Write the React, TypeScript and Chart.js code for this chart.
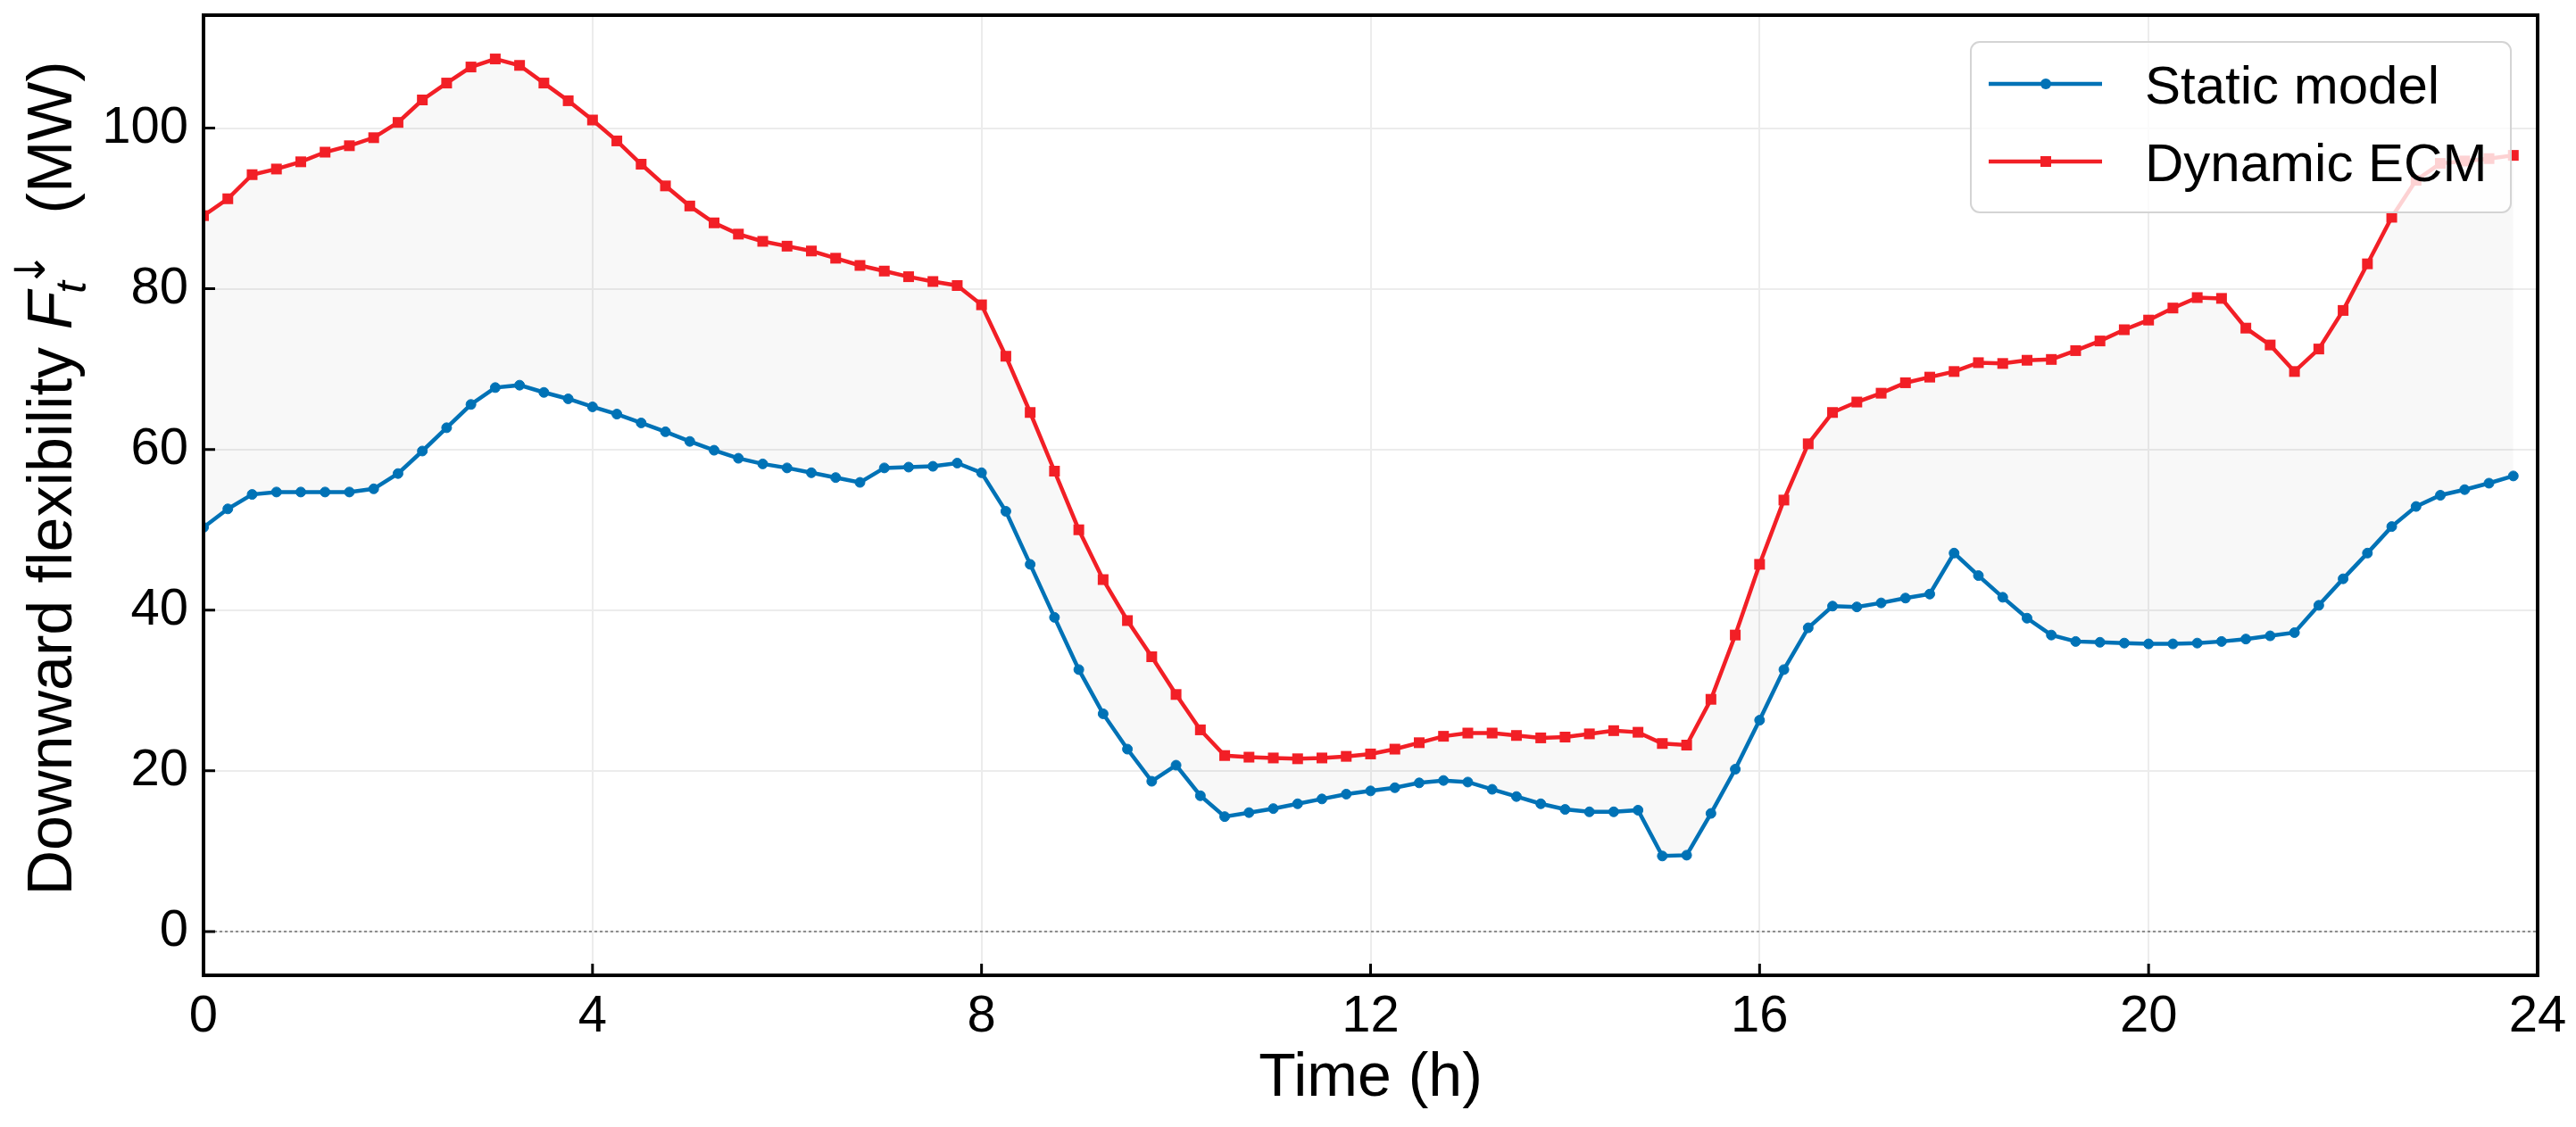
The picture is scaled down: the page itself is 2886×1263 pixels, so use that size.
import { useEffect, useRef } from "react";
import { Chart, registerables } from "chart.js";

Chart.register(...registerables);

// time of day (h), 15-minute steps
const hours = [
  0, 0.25, 0.5, 0.75, 1, 1.25, 1.5, 1.75, 2, 2.25, 2.5, 2.75,
  3, 3.25, 3.5, 3.75, 4, 4.25, 4.5, 4.75, 5, 5.25, 5.5, 5.75,
  6, 6.25, 6.5, 6.75, 7, 7.25, 7.5, 7.75, 8, 8.25, 8.5, 8.75,
  9, 9.25, 9.5, 9.75, 10, 10.25, 10.5, 10.75, 11, 11.25, 11.5, 11.75,
  12, 12.25, 12.5, 12.75, 13, 13.25, 13.5, 13.75, 14, 14.25, 14.5, 14.75,
  15, 15.25, 15.5, 15.75, 16, 16.25, 16.5, 16.75, 17, 17.25, 17.5, 17.75,
  18, 18.25, 18.5, 18.75, 19, 19.25, 19.5, 19.75, 20, 20.25, 20.5, 20.75,
  21, 21.25, 21.5, 21.75, 22, 22.25, 22.5, 22.75, 23, 23.25, 23.5, 23.75,
];

const staticModel = [
  50.3, 52.6, 54.4, 54.7, 54.7, 54.7, 54.7, 55.1,
  57.0, 59.8, 62.7, 65.6, 67.7, 68.0, 67.1, 66.3,
  65.3, 64.4, 63.3, 62.2, 61.0, 59.9, 58.9, 58.2,
  57.7, 57.1, 56.5, 55.9, 57.7, 57.8, 57.9, 58.3,
  57.1, 52.3, 45.7, 39.1, 32.6, 27.1, 22.7, 18.7,
  20.7, 16.9, 14.3, 14.8, 15.3, 15.9, 16.5, 17.1,
  17.5, 17.9, 18.5, 18.8, 18.6, 17.7, 16.8, 15.9,
  15.2, 14.9, 14.9, 15.1, 9.4, 9.5, 14.7, 20.2,
  26.3, 32.6, 37.8, 40.5, 40.4, 40.9, 41.5, 42.0,
  47.1, 44.3, 41.6, 39.0, 36.9, 36.1, 36.0, 35.9,
  35.8, 35.8, 35.9, 36.1, 36.4, 36.8, 37.2, 40.6,
  43.9, 47.1, 50.4, 52.9, 54.3, 55.0, 55.8, 56.7,
];

const dynamicEcm = [
  89.1, 91.2, 94.2, 94.9, 95.8, 97.0, 97.8, 98.8,
  100.7, 103.5, 105.6, 107.6, 108.6, 107.8, 105.6, 103.4,
  101.0, 98.4, 95.5, 92.8, 90.3, 88.2, 86.8, 85.9,
  85.3, 84.7, 83.8, 82.9, 82.2, 81.5, 80.9, 80.4,
  78.0, 71.6, 64.6, 57.3, 50.0, 43.8, 38.7, 34.2,
  29.5, 25.1, 21.9, 21.7, 21.6, 21.5, 21.6, 21.8,
  22.1, 22.7, 23.5, 24.3, 24.7, 24.7, 24.4, 24.1,
  24.2, 24.6, 25.0, 24.8, 23.4, 23.2, 28.9, 36.9,
  45.7, 53.7, 60.7, 64.6, 65.9, 67.0, 68.3, 69.0,
  69.7, 70.8, 70.7, 71.1, 71.2, 72.3, 73.5, 74.9,
  76.1, 77.6, 78.9, 78.8, 75.1, 73.0, 69.7, 72.5,
  77.3, 83.1, 88.9, 93.5, 95.6, 95.9, 96.2, 96.6,
];

const xTicks = [0, 4, 8, 12, 16, 20, 24];
const yTicks = [0, 20, 40, 60, 80, 100];
const seriesLabels = ["Static model", "Dynamic ECM"];
const xTitle = "Time (h)";
const yTitleMain = "Downward flexibility ";
const yTitleUnit = "(MW)";

const BLUE = "#0072B6";
const RED = "#F21F26";
const FONT = '"Liberation Sans", Arial, sans-serif';

// frame, inward ticks, zero line, axis titles and the legend box
const decorations = {
  id: "decorations",
  beforeDatasetsDraw(chart: Chart) {
    const { ctx, chartArea: a, scales } = chart;
    const y0 = scales.y.getPixelForValue(0);
    ctx.save();
    ctx.strokeStyle = "#8a8a8a";
    ctx.lineWidth = 2;
    ctx.setLineDash([3, 3]);
    ctx.beginPath();
    ctx.moveTo(a.left, y0);
    ctx.lineTo(a.right, y0);
    ctx.stroke();
    ctx.restore();
  },
  afterDatasetsDraw(chart: Chart) {
    const { ctx, chartArea: a, scales } = chart;
    ctx.save();
    ctx.strokeStyle = "#000";
    ctx.lineWidth = 3;
    ctx.beginPath();
    for (const v of xTicks) {
      const px = scales.x.getPixelForValue(v);
      ctx.moveTo(px, a.bottom);
      ctx.lineTo(px, a.bottom - 13);
    }
    for (const v of yTicks) {
      const py = scales.y.getPixelForValue(v);
      ctx.moveTo(a.left, py);
      ctx.lineTo(a.left + 13, py);
    }
    ctx.stroke();
    ctx.lineWidth = 4;
    ctx.strokeRect(a.left, a.top, a.right - a.left, a.bottom - a.top);

    // x title
    ctx.fillStyle = "#000";
    ctx.font = `68px ${FONT}`;
    ctx.textAlign = "center";
    ctx.textBaseline = "alphabetic";
    ctx.fillText(xTitle, (a.left + a.right) / 2, 1228);

    // y title, rotated, with F_t^arrow
    ctx.translate(80, 536);
    ctx.rotate(-Math.PI / 2);
    ctx.textAlign = "left";
    const main = `70px ${FONT}`;
    const ital = `italic 70px ${FONT}`;
    const sub = `italic 49px ${FONT}`;
    const arr = `47px "DejaVu Sans", sans-serif`;
    ctx.font = main;
    const w1 = ctx.measureText(yTitleMain).width;
    const w4 = ctx.measureText(yTitleUnit).width;
    ctx.font = ital;
    const wF = ctx.measureText("F").width;
    ctx.font = sub;
    const wt = ctx.measureText("t").width;
    ctx.font = arr;
    const wa = ctx.measureText("\u2193").width;
    const gap = 50;
    const total = w1 + wF + 2 + wt + wa * 0.55 + gap + w4;
    let x = -total / 2;
    ctx.font = main;
    ctx.fillText(yTitleMain, x, 0);
    x += w1;
    ctx.font = ital;
    ctx.fillText("F", x, 0);
    x += wF + 2;
    ctx.font = sub;
    ctx.fillText("t", x - 4, 16);
    ctx.font = arr;
    ctx.fillText("\u2193", x + wt * 0.2, -30);
    x += wt + wa * 0.55 + gap;
    ctx.font = main;
    ctx.fillText(yTitleUnit, x, 0);
    ctx.restore();
  },
  afterDraw(chart: Chart) {
    const { ctx } = chart;
    const bx = 2208, by = 47, bw = 605, bh = 191, r = 10;
    ctx.save();
    ctx.fillStyle = "rgba(255,255,255,0.8)";
    ctx.strokeStyle = "#d4d4d4";
    ctx.lineWidth = 2;
    ctx.beginPath();
    ctx.roundRect(bx, by, bw, bh, r);
    ctx.fill();
    ctx.stroke();
    const rows = [94, 181];
    chart.data.datasets.forEach((ds: any, i: number) => {
      const cy = rows[i];
      ctx.strokeStyle = ds.borderColor;
      ctx.fillStyle = ds.borderColor;
      ctx.lineWidth = 4.5;
      ctx.beginPath();
      ctx.moveTo(2228, cy);
      ctx.lineTo(2355, cy);
      ctx.stroke();
      ctx.beginPath();
      if (ds.pointStyle === "rect") {
        ctx.rect(2292 - 6, cy - 6, 12, 12);
      } else {
        ctx.arc(2292, cy, 6, 0, Math.PI * 2);
      }
      ctx.fill();
      ctx.fillStyle = "#000";
      ctx.font = `60px ${FONT}`;
      ctx.textAlign = "left";
      ctx.textBaseline = "alphabetic";
      ctx.fillText(ds.label, 2403, cy + 22);
    });
    ctx.restore();
  },
};

function createChart(canvas: HTMLCanvasElement): Chart {
  const ctx = canvas.getContext("2d") as CanvasRenderingContext2D;
  return new Chart(ctx, {
    type: "line",
    data: {
      labels: hours,
      datasets: [
        {
          label: seriesLabels[0],
          data: hours.map((h, i) => ({ x: h, y: staticModel[i] })),
          borderColor: BLUE,
          backgroundColor: BLUE,
          pointBackgroundColor: BLUE,
          pointBorderColor: BLUE,
          pointStyle: "circle",
          pointRadius: 5.5,
          pointBorderWidth: 1,
          borderWidth: 4.5,
          fill: false,
        },
        {
          label: seriesLabels[1],
          data: hours.map((h, i) => ({ x: h, y: dynamicEcm[i] })),
          borderColor: RED,
          backgroundColor: "rgba(0,0,0,0.028)",
          pointBackgroundColor: RED,
          pointBorderColor: RED,
          pointStyle: "rect",
          pointRadius: 8.5,
          pointBorderWidth: 0,
          borderWidth: 4.5,
          fill: "-1",
        },
      ],
    },
    options: {
      animation: false,
      responsive: true,
      maintainAspectRatio: false,
      devicePixelRatio: 1,
      layout: { padding: { top: 17, right: 43, left: 0, bottom: 0 } },
      plugins: {
        legend: { display: false },
        tooltip: { enabled: false },
      },
      scales: {
        x: {
          type: "linear",
          min: 0,
          max: 24,
          afterBuildTicks: (scale: any) => {
            scale.ticks = xTicks.map((v) => ({ value: v }));
          },
          afterFit: (scale: any) => {
            scale.height = 170;
            scale.paddingLeft = 0;
            scale.paddingRight = 0;
          },
          grid: { color: "#ececec", lineWidth: 2, drawTicks: false },
          border: { display: false },
          ticks: {
            padding: 12,
            color: "#000",
            font: { family: FONT, size: 58 },
            maxRotation: 0,
            callback: (v: any) => String(v),
          },
        },
        y: {
          type: "linear",
          min: -5.45,
          max: 114.05,
          afterBuildTicks: (scale: any) => {
            scale.ticks = yTicks.map((v) => ({ value: v }));
          },
          afterFit: (scale: any) => {
            scale.width = 228;
            scale.paddingTop = 0;
            scale.paddingBottom = 0;
          },
          grid: { color: "#ececec", lineWidth: 2, drawTicks: false },
          border: { display: false },
          ticks: {
            padding: 17,
            color: "#000",
            font: { family: FONT, size: 58 },
            callback: (v: any) => String(v),
          },
        },
      },
    },
    plugins: [decorations as any],
  });
}

export default function App() {
  const canvasRef = useRef<HTMLCanvasElement>(null);

  useEffect(() => {
    const chart = createChart(canvasRef.current!);
    return () => {
      chart.destroy();
    };
  }, []);

  return (
    <div
      style={{
        position: "fixed",
        left: 0,
        top: 0,
        width: 2886,
        height: 1263,
        background: "#fff",
      }}
    >
      <canvas ref={canvasRef}></canvas>
    </div>
  );
}
